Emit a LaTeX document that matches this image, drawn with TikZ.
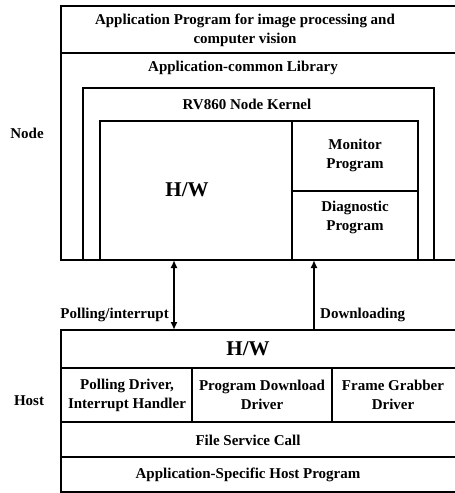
\documentclass[tikz,border=0pt]{standalone}
\usepackage{fontspec}
\setmainfont{Liberation Serif}
\usetikzlibrary{arrows.meta}
\begin{document}
\begin{tikzpicture}[x=1pt,y=-1pt,
  frame/.style={line width=1.4pt},
  lbl/.style={font=\fontsize{15}{19}\selectfont\bfseries, align=center, inner sep=0pt},
  big/.style={font=\fontsize{21}{23}\selectfont\bfseries, inner sep=0pt},
  side/.style={font=\fontsize{15}{19}\selectfont\bfseries, inner sep=0pt},
  link/.style={line width=2.3pt, -{Latex[length=8pt,width=7pt]}},
  dlink/.style={line width=2.3pt, {Latex[length=8pt,width=7pt]}-{Latex[length=8pt,width=7pt]}}]
\useasboundingbox (0,0) rectangle (455,493);

% ---- node side: nested layers, open towards the right edge
\draw[frame] (455,6) -- (61,6) -- (61,260) -- (455,260);
\draw[frame] (61,53) -- (455,53);
\draw[frame] (83,260) -- (83,88) -- (434,88) -- (434,260);
\draw[frame] (100,260) -- (100,121) -- (418,121) -- (418,260);
\draw[frame] (292,121) -- (292,260);
\draw[frame] (292,191) -- (418,191);

\node[lbl] (app) at (245,30) {Application Program for image processing and\\computer vision};
\node[lbl] (lib) at (243,68) {Application-common Library};
\node[lbl] (kernel) at (247,104) {RV860 Node Kernel};
\node[big] (nodehw) at (187,190) {H/W};
\node[lbl] (monitor) at (355,155) {Monitor\\Program};
\node[lbl] (diag) at (355,217) {Diagnostic\\Program};
\node[side] (nodelbl) at (27,133) {Node};

% ---- host side: stacked layers
\draw[frame] (455,330) -- (61,330) -- (61,492) -- (455,492);
\draw[frame] (61,368) -- (455,368);
\draw[frame] (61,422) -- (455,422);
\draw[frame] (61,457) -- (455,457);
\draw[frame] (192,368) -- (192,422);
\draw[frame] (332,368) -- (332,422);

\node[big] (hosthw) at (248,349) {H/W};
\node[lbl] (poll) at (127,395) {Polling Driver,\\Interrupt Handler};
\node[lbl] (dl) at (262,395) {Program Download\\Driver};
\node[lbl] (fg) at (393,395) {Frame Grabber\\Driver};
\node[lbl] (fsc) at (248,440) {File Service Call};
\node[lbl] (ashp) at (248,475) {Application-Specific Host Program};
\node[side] (hostlbl) at (29,401) {Host};

% ---- links between host and node hardware
\coordinate (nodeA) at (174,260);
\coordinate (hostA) at (174,330);
\coordinate (nodeB) at (314,260);
\coordinate (hostB) at (314,330);
\draw[dlink] (hostA) -- (nodeA);
\draw[link] (hostB) -- (nodeB);
\node[side, anchor=east] (pollbl) at (169,315) {Polling/interrupt};
\node[side, anchor=west] (dlbl) at (320,315) {Downloading};
\end{tikzpicture}
\end{document}
